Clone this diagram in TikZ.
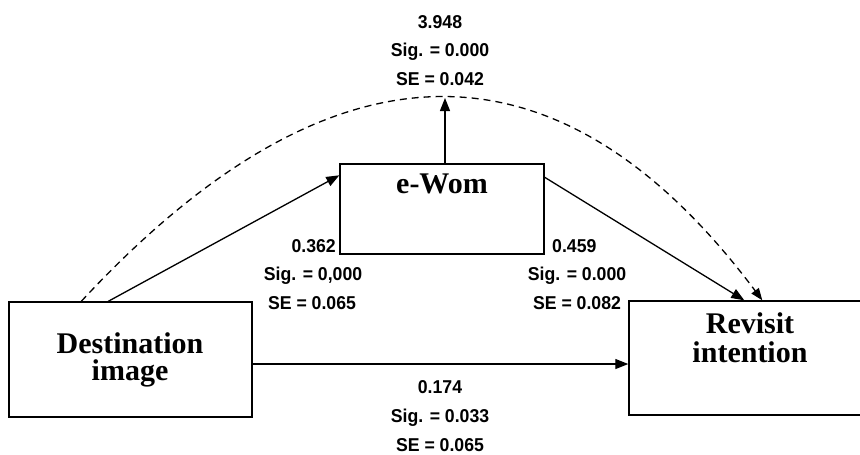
\documentclass[tikz,border=0pt]{standalone}
\usepackage{fontspec}
\usetikzlibrary{arrows.meta}
\newfontfamily\statfont[FakeStretch=0.95]{Liberation Sans}
\newfontfamily\boxfont{Liberation Serif}

\tikzset{
  construct/.style={draw, line width=1.4pt, rectangle, inner sep=0pt},
  boxtext/.style={anchor=base, inner sep=0pt, font=\boxfont\bfseries\fontsize{30}{28}\selectfont},
  stat/.style={anchor=base, inner sep=0pt, font=\statfont\bfseries\fontsize{18.6}{29}\selectfont},
  path/.style={line width=1.3pt, -{Triangle[length=13pt,width=10pt]}},
  indirect/.style={line width=1.3pt, dash pattern=on 7pt off 5pt, -{Triangle[length=12pt,width=9pt]}}
}

\begin{document}
\begin{tikzpicture}[x=1pt, y=-1pt]
\useasboundingbox (0,0) rectangle (860,455);
\clip (0,0) rectangle (860,455);

% constructs
\node[construct, minimum width=243pt, minimum height=115pt] (dest) at (130.5,359.5) {};
\node[construct, minimum width=204pt, minimum height=90pt] (ewom) at (442,209) {};
\node[construct, minimum width=250pt, minimum height=114pt] (rev) at (754,358) {};

\node[boxtext] (destA) at (130,353) {Destination};
\node[boxtext] (destB) at (130,380) {image};
\node[boxtext] (ewomT) at (442,193) {e-Wom};
\node[boxtext] (revA) at (750,333) {Revisit};
\node[boxtext] (revB) at (750,362) {intention};

% apex of the indirect-effect curve
\coordinate (apex) at (445,98);

% direct paths
\draw[path] ([xshift=100pt]dest.north west) -- ([yshift=-12pt]ewom.north west);
\draw[path] ([yshift=-14pt]ewom.north east) -- ([xshift=116pt]rev.north west);
\draw[path] ([yshift=-4.5pt]dest.east) -- ([yshift=-4.5pt]dest.east -| rev.west);
\draw[path] ([xshift=3pt]ewom.north) -- (apex);

% indirect effect
\draw[indirect] ([xshift=73pt]dest.north west)
  .. controls (333,30) and (560,30) .. ([xshift=134pt]rev.north west);

% indirect effect statistics
\node[stat] (indB) at (440,28) {3.948};
\node[stat] (indS) at (440,56.5) {Sig. = 0.000};
\node[stat] (indE) at (440,85.5) {SE = 0.042};

% destination image -> e-Wom
\node[stat, anchor=base east] (aB) at (336,252) {0.362};
\node[stat] (aS) at (313,280.5) {Sig. = 0,000};
\node[stat] (aE) at (312,309.5) {SE = 0.065};

% e-Wom -> revisit intention
\node[stat, anchor=base west] (bB) at (552,252) {0.459};
\node[stat] (bS) at (577,280.5) {Sig. = 0.000};
\node[stat] (bE) at (577,309.5) {SE = 0.082};

% destination image -> revisit intention
\node[stat] (cB) at (440,393) {0.174};
\node[stat] (cS) at (440,422) {Sig. = 0.033};
\node[stat] (cE) at (440,451) {SE = 0.065};
\end{tikzpicture}
\end{document}
